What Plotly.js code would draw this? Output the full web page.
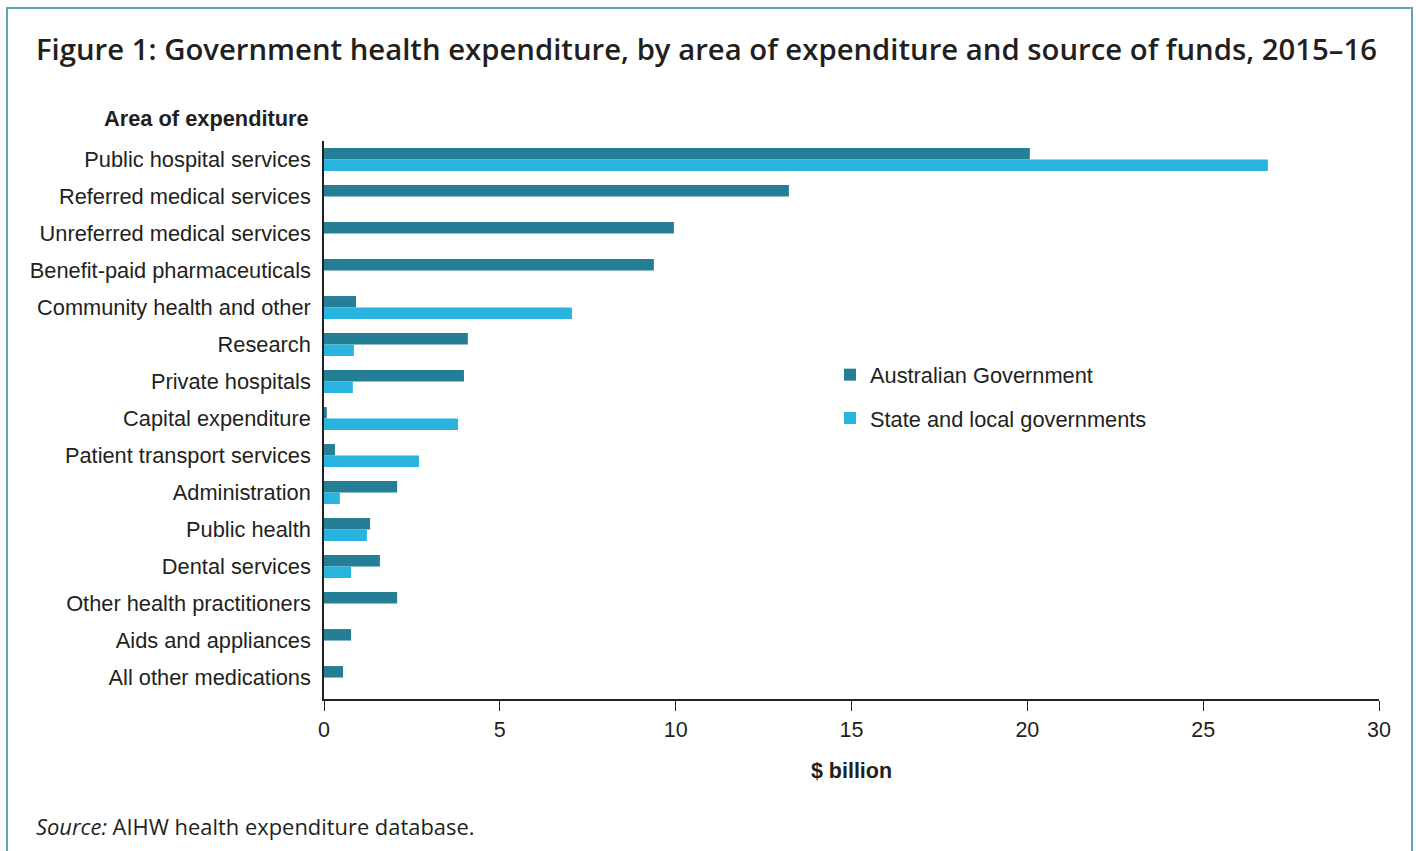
<!DOCTYPE html>
<html>
<head>
<meta charset="utf-8">
<script src="https://cdn.plot.ly/plotly-3.0.1.min.js"></script>
<style>
  html, body { margin: 0; padding: 0; background: #ffffff; }
  #chart { width: 1416px; height: 851px; }
  #frame { position: absolute; left: 6px; top: 7px; width: 1407px; height: 870px;
           border: 2px solid #5fa3b5; pointer-events: none; box-sizing: border-box; }
</style>
</head>
<body>
<div id="chart"></div>
<div id="frame"></div>
<script>
const categories = [
  "Public hospital services",
  "Referred medical services",
  "Unreferred medical services",
  "Benefit-paid pharmaceuticals",
  "Community health and other",
  "Research",
  "Private hospitals",
  "Capital expenditure",
  "Patient transport services",
  "Administration",
  "Public health",
  "Dental services",
  "Other health practitioners",
  "Aids and appliances",
  "All other medications"
];
const australianGovernment = [20.07, 13.22, 9.95, 9.38, 0.91, 4.09, 3.98, 0.08, 0.31, 2.08, 1.31, 1.59, 2.08, 0.77, 0.54];
const stateAndLocal =        [26.84, 0,     0,    0,    7.05, 0.85, 0.82, 3.81, 2.70, 0.45, 1.22, 0.77, 0,    0,    0];
const seriesNames = ["Australian Government", "State and local governments"];
const xTicks = [0, 5, 10, 15, 20, 25, 30];

const darkTeal = "#237e96";
const lightBlue = "#28b4de";
const textColor = "#231f20";
const labelFont = "Liberation Sans, Arial, Helvetica, sans-serif";
const titleFont = "Open Sans, Noto Sans, sans-serif";

const plotTop = 141, plotBottom = 699, plotH = plotBottom - plotTop;
const py = (px) => (plotBottom - px) / plotH;   // pixel row -> paper y

const traces = [
  { type: "bar", orientation: "h", name: seriesNames[0], y: categories, x: australianGovernment,
    marker: { color: darkTeal }, legendgroup: "a", hoverinfo: "x+name" },
  { type: "bar", orientation: "h", name: seriesNames[1], y: categories, x: stateAndLocal,
    marker: { color: lightBlue }, legendgroup: "b", hoverinfo: "x+name" }
];

const layout = {
  width: 1416, height: 851,
  paper_bgcolor: "#ffffff", plot_bgcolor: "#ffffff",
  margin: { l: 324, r: 37, t: plotTop, b: 851 - plotBottom },
  barmode: "group",
  bargap: 0.38,
  bargroupgap: 0,
  title: {
    text: "Figure 1: Government health expenditure, by area of expenditure and source of funds, 2015–16",
    font: { family: titleFont, size: 29.3, color: textColor, weight: 600 },
    xref: "container", x: 36 / 1416, xanchor: "left",
    yref: "container", y: 1 - 50 / 851, yanchor: "middle"
  },
  xaxis: {
    range: [0, 30],
    tickvals: xTicks,
    ticktext: xTicks.map(String),
    ticks: "outside", ticklen: 10, tickwidth: 1, tickcolor: "#231f20",
    showline: true, linecolor: "#231f20", linewidth: 1.5,
    showgrid: false, zeroline: false,
    tickfont: { family: labelFont, size: 21.5, color: textColor },
    title: { text: "<b>$ billion</b>", font: { family: labelFont, size: 21.5, color: textColor }, standoff: 22 },
    fixedrange: true
  },
  yaxis: {
    range: [14.58, -0.5],
    showline: true, linecolor: "#231f20", linewidth: 1.5,
    ticks: "", showgrid: false, zeroline: false,
    tickfont: { family: labelFont, size: 21.8, color: textColor },
    ticklabelstandoff: 7,
    fixedrange: true
  },
  showlegend: true,
  legend: {
    x: (830 - 324) / 1055, xanchor: "left",
    y: py(354), yanchor: "top",
    traceorder: "grouped", tracegroupgap: 12,
    font: { family: labelFont, size: 21.8, color: textColor },
    bgcolor: "rgba(0,0,0,0)"
  },
  annotations: [
    { text: "<b>Area of expenditure</b>", xref: "paper", yref: "paper",
      x: 0, xshift: -13, xanchor: "right", y: py(118), yanchor: "middle",
      showarrow: false, font: { family: labelFont, size: 21.8, color: textColor } },
    { text: "<i>Source:</i> AIHW health expenditure database.", xref: "paper", yref: "paper",
      x: (34 - 324) / 1055, xanchor: "left", y: py(826), yanchor: "middle",
      showarrow: false, font: { family: titleFont, size: 21.9, color: textColor } }
  ]
};

Plotly.newPlot("chart", traces, layout, { displayModeBar: false, staticPlot: false });
</script>
</body>
</html>
